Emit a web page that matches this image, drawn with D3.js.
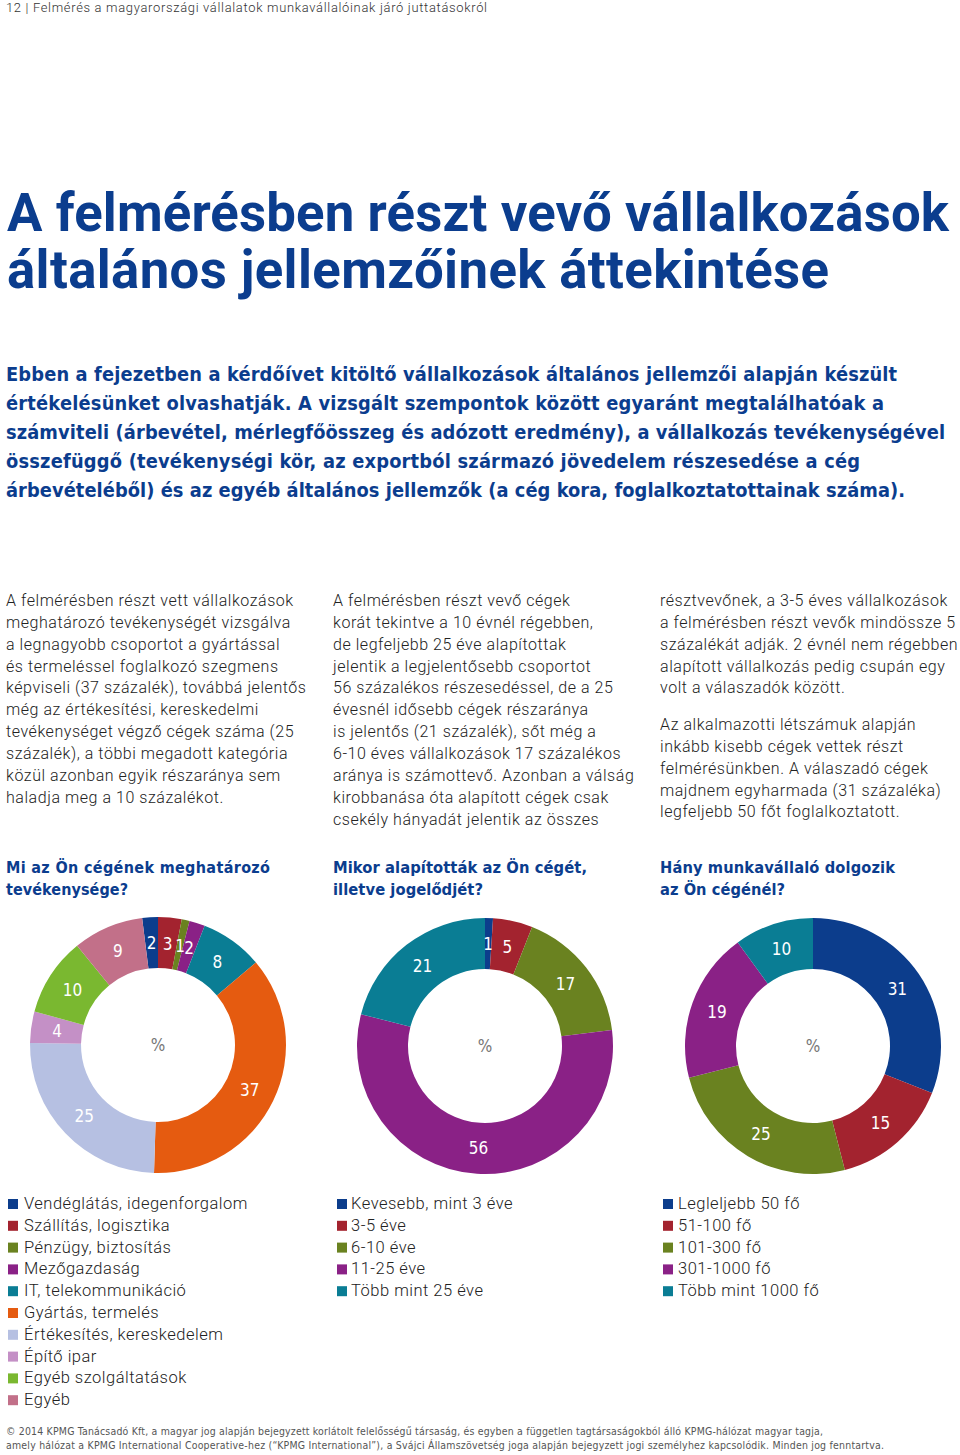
<!DOCTYPE html>
<html>
<head>
<meta charset="utf-8">
<script src="https://cdn.jsdelivr.net/npm/d3@7"></script>
<style>
html,body{margin:0;padding:0;background:#fff;}
svg{display:block;}
</style>
</head>
<body>
<svg id="page" width="960" height="1455"></svg>
<script>
// ---------- DATA ----------
const headerText = "12 | Felmérés a magyarországi vállalatok munkavállalóinak járó juttatásokról";
const titleLines = ["A felmérésben részt vevő vállalkozások", "általános jellemzőinek áttekintése"];
const introLines = [
  "Ebben a fejezetben a kérdőívet kitöltő vállalkozások általános jellemzői alapján készült",
  "értékelésünket olvashatják. A vizsgált szempontok között egyaránt megtalálhatóak a",
  "számviteli (árbevétel, mérlegfőösszeg és adózott eredmény), a vállalkozás tevékenységével",
  "összefüggő (tevékenységi kör, az exportból származó jövedelem részesedése a cég",
  "árbevételéből) és az egyéb általános jellemzők (a cég kora, foglalkoztatottainak száma)."
];
const col1Lines = [
  "A felmérésben részt vett vállalkozások",
  "meghatározó tevékenységét vizsgálva",
  "a legnagyobb csoportot a gyártással",
  "és termeléssel foglalkozó szegmens",
  "képviseli (37 százalék), továbbá jelentős",
  "még az értékesítési, kereskedelmi",
  "tevékenységet végző cégek száma (25",
  "százalék), a többi megadott kategória",
  "közül azonban egyik részaránya sem",
  "haladja meg a 10 százalékot."
];
const col2Lines = [
  "A felmérésben részt vevő cégek",
  "korát tekintve a 10 évnél régebben,",
  "de legfeljebb 25 éve alapítottak",
  "jelentik a legjelentősebb csoportot",
  "56 százalékos részesedéssel, de a 25",
  "évesnél idősebb cégek részaránya",
  "is jelentős (21 százalék), sőt még a",
  "6-10 éves vállalkozások 17 százalékos",
  "aránya is számottevő. Azonban a válság",
  "kirobbanása óta alapított cégek csak",
  "csekély hányadát jelentik az összes"
];
const col3aLines = [
  "résztvevőnek, a 3-5 éves vállalkozások",
  "a felmérésben részt vevők mindössze 5",
  "százalékát adják. 2 évnél nem régebben",
  "alapított vállalkozás pedig csupán egy",
  "volt a válaszadók között."
];
const col3bLines = [
  "Az alkalmazotti létszámuk alapján",
  "inkább kisebb cégek vettek részt",
  "felmérésünkben. A válaszadó cégek",
  "majdnem egyharmada (31 százaléka)",
  "legfeljebb 50 főt foglalkoztatott."
];
const questions = [
  ["Mi az Ön cégének meghatározó", "tevékenysége?"],
  ["Mikor alapították az Ön cégét,", "illetve jogelődjét?"],
  ["Hány munkavállaló dolgozik", "az Ön cégénél?"]
];
const activityCategories = ["Vendéglátás, idegenforgalom","Szállítás, logisztika","Pénzügy, biztosítás","Mezőgazdaság","IT, telekommunikáció","Gyártás, termelés","Értékesítés, kereskedelem","Építő ipar","Egyéb szolgáltatások","Egyéb"];
const activityValues = [2, 3, 1, 2, 8, 37, 25, 4, 10, 9];
const activityColors = ["#0c3d8c","#a3232f","#6a8220","#8a2186","#0a7d94","#e55b10","#b6c0e2","#c490c6","#7ab830","#c27089"];

const ageCategories = ["Kevesebb, mint 3 éve","3-5 éve","6-10 éve","11-25 éve","Több mint 25 éve"];
const ageValues = [1, 5, 17, 56, 21];
const ageColors = ["#0c3d8c","#a3232f","#6a8220","#8a2186","#0a7d94"];

const sizeCategories = ["Legleljebb 50 fő","51-100 fő","101-300 fő","301-1000 fő","Több mint 1000 fő"];
const sizeValues = [31, 15, 25, 19, 10];
const sizeColors = ["#0c3d8c","#a3232f","#6a8220","#8a2186","#0a7d94"];

const footerLines = [
  "© 2014 KPMG Tanácsadó Kft, a magyar jog alapján bejegyzett korlátolt felelősségű társaság, és egyben a független tagtársaságokból álló KPMG-hálózat magyar tagja,",
  "amely hálózat a KPMG International Cooperative-hez (“KPMG International”), a Svájci Államszövetség joga alapján bejegyzett jogi személyhez kapcsolódik. Minden jog fenntartva."
];

// ---------- DRAW ----------
const svg = d3.select("#page");
const BLUE = "#0b3d8e";
const SANS = "Roboto, 'Liberation Sans', Arial, sans-serif";
const COND = "'Liberation Sans Narrow', 'DejaVu Sans Condensed', Roboto, sans-serif";

// draws a block of lines; shrinks the font so no line is wider than its target, then stretches spacing to meet target
function fittedBlock(lines, targets, x, y0, dy, font, weight, size, fill){
  const nodes = lines.map((t, i) => svg.append("text").attr("x", x).attr("y", y0 + i * dy).text(t)
    .attr("font-family", font).attr("font-weight", weight).attr("font-size", size).attr("fill", fill));
  let ratio = 1;
  nodes.forEach((n, i) => { ratio = Math.min(ratio, targets[i] / n.node().getComputedTextLength()); });
  const s = size * ratio * 0.995;
  nodes.forEach((n, i) => {
    n.attr("font-size", s);
    const w = n.node().getComputedTextLength();
    if (w < targets[i]) n.attr("textLength", targets[i]).attr("lengthAdjust", "spacing");
  });
}

// header
fittedBlock([headerText], [481], 6, 12, 0, SANS, 300, 13, "#333");

// title
fittedBlock(titleLines, [942, 822], 7, 231, 57, SANS, 700, 56, BLUE);

// intro
fittedBlock(introLines, [891, 878, 939, 854, 899], 6, 381, 29, COND, 700, 21, BLUE);

// body columns
function bodyBlock(lines, x, y0){
  lines.forEach((t, i) => {
    svg.append("text").attr("x", x).attr("y", y0 + i * 21.85).text(t)
      .attr("font-family", SANS).attr("font-weight", 300).attr("font-size", 16)
      .attr("letter-spacing", 0.55).attr("fill", "#222");
  });
}
bodyBlock(col1Lines, 6, 606);
bodyBlock(col2Lines, 333, 606);
bodyBlock(col3aLines, 660, 606);
bodyBlock(col3bLines, 660, 730);

// questions
const colX = [6, 333, 660];
const qW = [[264, 122], [254, 150], [235, 125]];
questions.forEach((q, c) => {
  fittedBlock(q, qW[c], colX[c], 873, 22, COND, 700, 17.5, BLUE);
});

// donuts
const outerR = 128, innerR = 77, labelR = 102;
function donut(values, colors, cx, cy, startOffset){
  const total = d3.sum(values);
  const start = startOffset ? -startOffset / total * 2 * Math.PI : 0;
  const pie = d3.pie().sort(null).value(d => d).startAngle(start).endAngle(start + 2 * Math.PI);
  const arc = d3.arc().innerRadius(innerR).outerRadius(outerR);
  const labelArc = d3.arc().innerRadius(labelR).outerRadius(labelR);
  const g = svg.append("g").attr("transform", `translate(${cx},${cy})`);
  const arcs = pie(values);
  g.selectAll("path").data(arcs).join("path")
    .attr("d", arc).attr("fill", (d, i) => colors[i]);
  g.selectAll("text.lbl").data(arcs).join("text").attr("class", "lbl")
    .attr("transform", d => `translate(${labelArc.centroid(d)})`)
    .attr("text-anchor", "middle").attr("dy", "0.36em")
    .attr("font-family", COND).attr("font-weight", 300).attr("font-size", 17).attr("fill", "#fff")
    .text(d => d.data);
  g.append("text").attr("text-anchor", "middle").attr("dy", "0.36em")
    .attr("font-family", COND).attr("font-weight", 300).attr("font-size", 17).attr("fill", "#777").text("%");
}
donut(activityValues, activityColors, 158, 1045, activityValues[0]);
donut(ageValues, ageColors, 485, 1046, 0);
donut(sizeValues, sizeColors, 813, 1046, 0);

// legends
function legend(cats, colors, sx, tx){
  cats.forEach((c, i) => {
    const y = 1209 + i * 21.8;
    svg.append("rect").attr("x", sx).attr("y", y - 10).attr("width", 10).attr("height", 10).attr("fill", colors[i]);
    svg.append("text").attr("x", tx).attr("y", y).text(c)
      .attr("font-family", SANS).attr("font-weight", 300).attr("font-size", 16.5)
      .attr("letter-spacing", 0.5).attr("fill", "#222");
  });
}
legend(activityCategories, activityColors, 8, 24);
legend(ageCategories, ageColors, 337, 351);
legend(sizeCategories, sizeColors, 663, 678);

// footer
fittedBlock(footerLines, [817, 878], 6, 1435, 14, COND, 400, 10.5, "#555");
</script>
</body>
</html>
